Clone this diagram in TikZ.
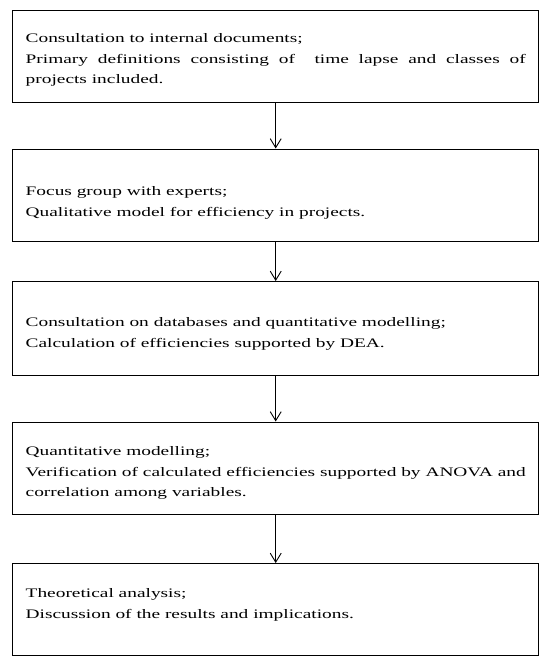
\documentclass[tikz,border=0pt]{standalone}
\usepackage{fontspec}
\setmainfont{Liberation Serif}[FakeStretch = 1.49]
\usetikzlibrary{arrows.meta}
\newcommand\boxleft{12}
\newcommand\textwide{500pt}

\begin{document}
\begin{tikzpicture}[yscale = -1, x = 1pt, y = 1pt, line width = 1.4pt,
	stepbox/.style = {draw, anchor = north west, align = justify, text width = \textwide,
		inner xsep = 13pt, inner ysep = 0pt, font = \fontsize{13pt}{20.5pt}\selectfont},
	flow/.style = {-{Straight Barb[length = 9pt, width = 11pt]}, line width = 0.9pt}]
	\useasboundingbox (0, 0) rectangle (550, 664);

	% Schritte:
	\node [stepbox, text height = 32.5pt, text depth = 60pt] (documents) at (\boxleft, 9.5)
		{Consultation to internal documents;\\Primary definitions consisting of \ time lapse and classes of\linebreak projects included.};
	\node [stepbox, text height = 46.5pt, text depth = 46pt] (focus) at (\boxleft, 148.5)
		{Focus group with experts;\\Qualitative model for efficiency in projects.};
	\node [stepbox, text height = 45pt, text depth = 49pt] (databases) at (\boxleft, 281)
		{Consultation on databases and quantitative modelling;\\Calculation of efficiencies supported by DEA.};
	\node [stepbox, text height = 33.5pt, text depth = 59pt] (verification) at (\boxleft, 421.5)
		{Quantitative modelling;\\Verification of calculated efficiencies supported by ANOVA and\\correlation among variables.};
	\node [stepbox, text height = 34pt, text depth = 58pt] (theory) at (\boxleft, 563)
		{Theoretical analysis;\\Discussion of the results and implications.};

	% Pfeile:
	\draw [flow] (documents.south) -- (focus.north);
	\draw [flow] (focus.south) -- (databases.north);
	\draw [flow] (databases.south) -- (verification.north);
	\draw [flow] (verification.south) -- (theory.north);
\end{tikzpicture}
\end{document}
